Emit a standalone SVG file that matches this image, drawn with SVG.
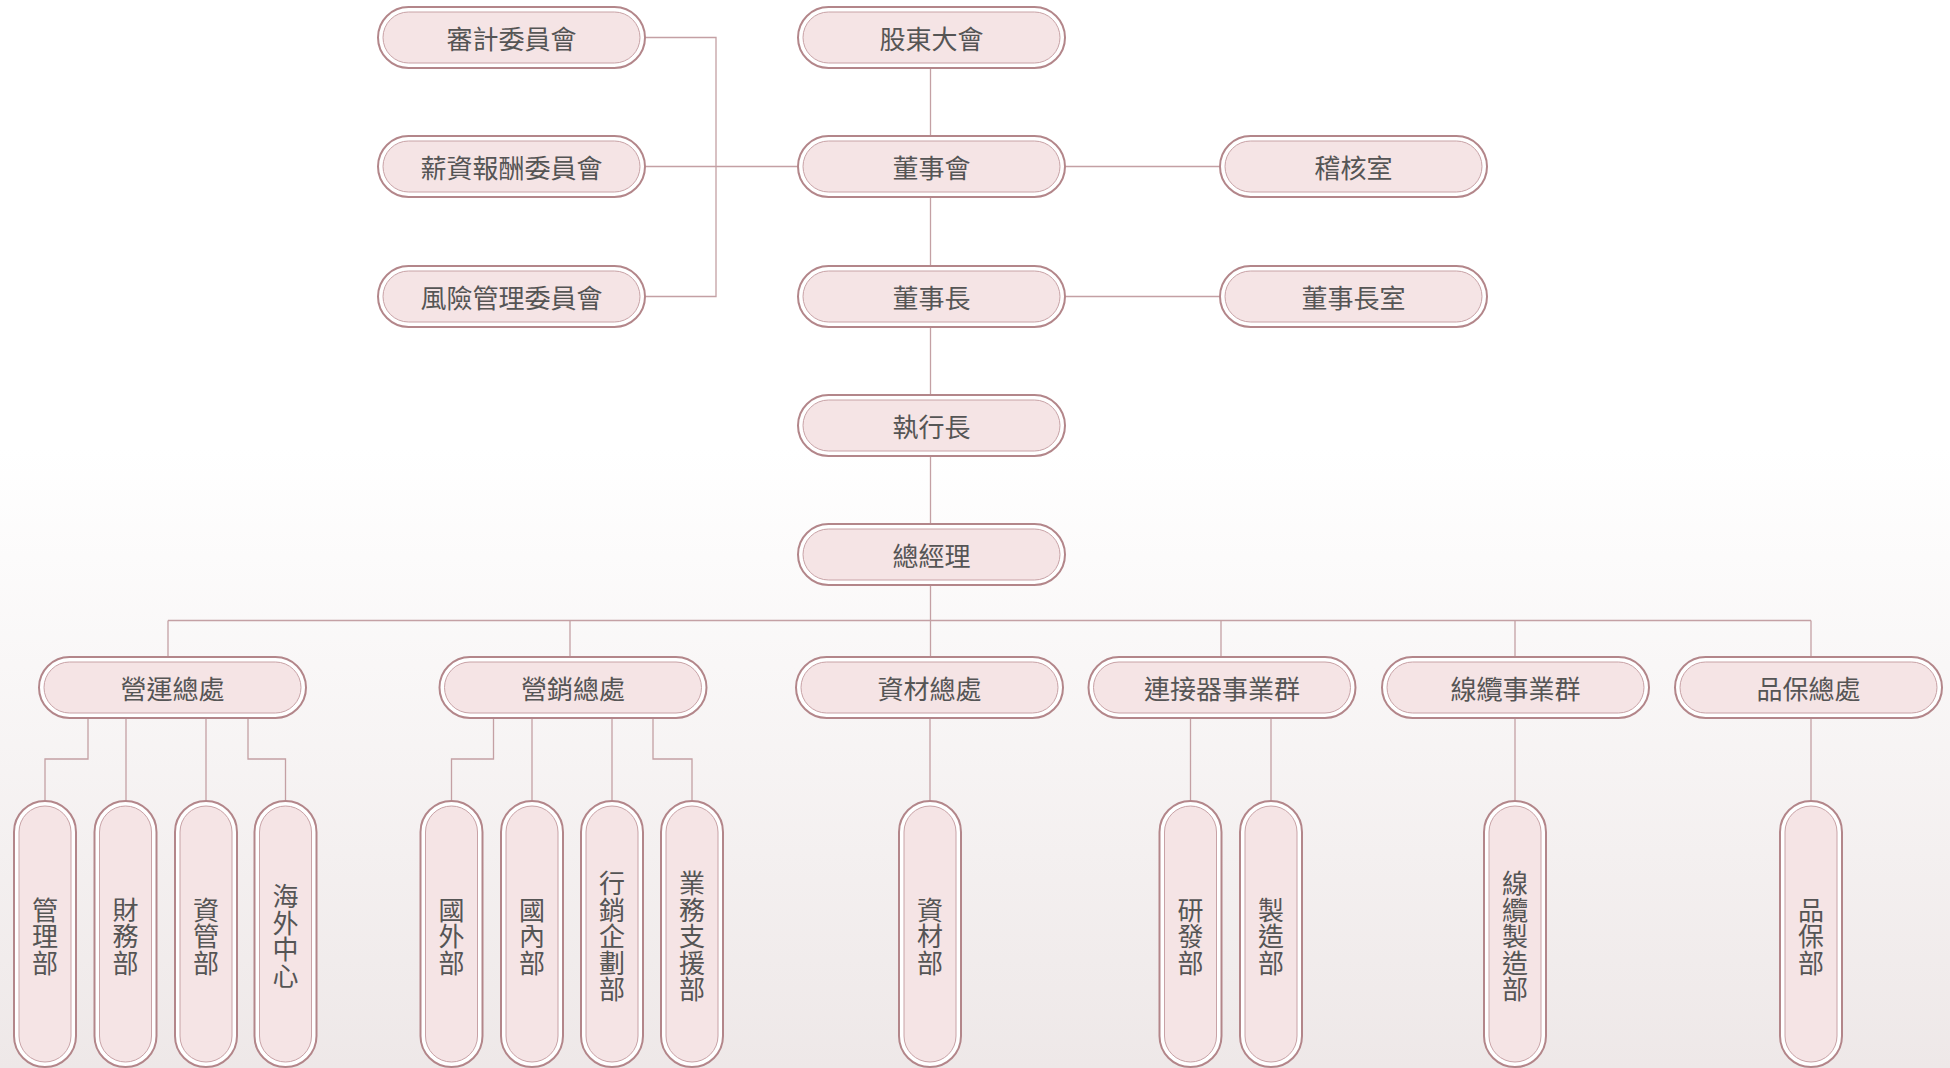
<svg xmlns="http://www.w3.org/2000/svg" width="1950" height="1068" viewBox="0 0 1950 1068">
<defs>
<linearGradient id="bg" x1="0" y1="0" x2="0" y2="1">
<stop offset="0" stop-color="#ffffff"/>
<stop offset="0.42" stop-color="#ffffff"/>
<stop offset="1" stop-color="#eee8e8"/>
</linearGradient>
<style>
.o{fill:#ffffff;stroke:#b3868a;stroke-width:2}
.i{fill:#f5e4e5;stroke:#c8a2a6;stroke-width:1}
.t{font-family:"Noto Sans CJK TC","Noto Sans CJK SC",sans-serif;font-size:26px;fill:#555555;text-anchor:middle;dominant-baseline:central}
.c{fill:none;stroke:#c4a0a4;stroke-width:1.3}
</style>
</defs>
<rect x="0" y="0" width="1950" height="1068" fill="url(#bg)"/>

<g id="connectors">
<path class="c" d="M645,37.5 H716 V296.5 H645"/>
<path class="c" d="M645,166.5 H798"/>
<path class="c" d="M930.5,68 V136"/>
<path class="c" d="M930.5,197 V266"/>
<path class="c" d="M930.5,327 V395"/>
<path class="c" d="M930.5,456 V524"/>
<path class="c" d="M930.5,585 V657"/>
<path class="c" d="M1065,166.5 H1220"/>
<path class="c" d="M1065,296.5 H1220"/>
<path class="c" d="M168,620.5 H1811"/>
<path class="c" d="M168,620.5 V657"/>
<path class="c" d="M570,620.5 V657"/>
<path class="c" d="M1221,620.5 V657"/>
<path class="c" d="M1515,620.5 V657"/>
<path class="c" d="M1811,620.5 V657"/>
<path class="c" d="M88,718 V759 H45 V801"/>
<path class="c" d="M126,718 V801"/>
<path class="c" d="M206,718 V801"/>
<path class="c" d="M248,718 V759 H285.5 V801"/>
<path class="c" d="M493.5,718 V759 H451.5 V801"/>
<path class="c" d="M532,718 V801"/>
<path class="c" d="M612,718 V801"/>
<path class="c" d="M653,718 V759 H692 V801"/>
<path class="c" d="M930,718 V801"/>
<path class="c" d="M1190.5,718 V801"/>
<path class="c" d="M1271,718 V801"/>
<path class="c" d="M1515,718 V801"/>
<path class="c" d="M1811,718 V801"/>
</g>

<g id="n-audit"><rect class="o" x="378" y="7" width="267" height="61" rx="30.5"/><rect class="i" x="383" y="12" width="257" height="51" rx="25.5"/><text class="t" x="511.5" y="37.5">審計委員會</text></g>
<g id="n-comp"><rect class="o" x="378" y="136" width="267" height="61" rx="30.5"/><rect class="i" x="383" y="141" width="257" height="51" rx="25.5"/><text class="t" x="511.5" y="166.5">薪資報酬委員會</text></g>
<g id="n-risk"><rect class="o" x="378" y="266" width="267" height="61" rx="30.5"/><rect class="i" x="383" y="271" width="257" height="51" rx="25.5"/><text class="t" x="511.5" y="296.5">風險管理委員會</text></g>
<g id="n-shareholders"><rect class="o" x="798" y="7" width="267" height="61" rx="30.5"/><rect class="i" x="803" y="12" width="257" height="51" rx="25.5"/><text class="t" x="931.5" y="37.5">股東大會</text></g>
<g id="n-board"><rect class="o" x="798" y="136" width="267" height="61" rx="30.5"/><rect class="i" x="803" y="141" width="257" height="51" rx="25.5"/><text class="t" x="931.5" y="166.5">董事會</text></g>
<g id="n-chairman"><rect class="o" x="798" y="266" width="267" height="61" rx="30.5"/><rect class="i" x="803" y="271" width="257" height="51" rx="25.5"/><text class="t" x="931.5" y="296.5">董事長</text></g>
<g id="n-ceo"><rect class="o" x="798" y="395" width="267" height="61" rx="30.5"/><rect class="i" x="803" y="400" width="257" height="51" rx="25.5"/><text class="t" x="931.5" y="425.5">執行長</text></g>
<g id="n-gm"><rect class="o" x="798" y="524" width="267" height="61" rx="30.5"/><rect class="i" x="803" y="529" width="257" height="51" rx="25.5"/><text class="t" x="931.5" y="554.5">總經理</text></g>
<g id="n-auditoffice"><rect class="o" x="1220" y="136" width="267" height="61" rx="30.5"/><rect class="i" x="1225" y="141" width="257" height="51" rx="25.5"/><text class="t" x="1353.5" y="166.5">稽核室</text></g>
<g id="n-chairoffice"><rect class="o" x="1220" y="266" width="267" height="61" rx="30.5"/><rect class="i" x="1225" y="271" width="257" height="51" rx="25.5"/><text class="t" x="1353.5" y="296.5">董事長室</text></g>

<g id="n-ops"><rect class="o" x="39" y="657" width="267" height="61" rx="30.5"/><rect class="i" x="44" y="662" width="257" height="51" rx="25.5"/><text class="t" x="172.5" y="687.5">營運總處</text></g>
<g id="n-sales"><rect class="o" x="439.5" y="657" width="267" height="61" rx="30.5"/><rect class="i" x="444.5" y="662" width="257" height="51" rx="25.5"/><text class="t" x="573" y="687.5">營銷總處</text></g>
<g id="n-material"><rect class="o" x="796" y="657" width="267" height="61" rx="30.5"/><rect class="i" x="801" y="662" width="257" height="51" rx="25.5"/><text class="t" x="929.5" y="687.5">資材總處</text></g>
<g id="n-connector"><rect class="o" x="1088.5" y="657" width="267" height="61" rx="30.5"/><rect class="i" x="1093.5" y="662" width="257" height="51" rx="25.5"/><text class="t" x="1222" y="687.5">連接器事業群</text></g>
<g id="n-cable"><rect class="o" x="1382" y="657" width="267" height="61" rx="30.5"/><rect class="i" x="1387" y="662" width="257" height="51" rx="25.5"/><text class="t" x="1515.5" y="687.5">線纜事業群</text></g>
<g id="n-qa"><rect class="o" x="1675" y="657" width="267" height="61" rx="30.5"/><rect class="i" x="1680" y="662" width="257" height="51" rx="25.5"/><text class="t" x="1808.5" y="687.5">品保總處</text></g>

<g id="p-admin"><rect class="o" x="14" y="801" width="62" height="266" rx="31"/><rect class="i" x="19" y="806" width="52" height="256" rx="26"/><text class="t"><tspan x="45" y="907.5">管</tspan><tspan x="45" y="934">理</tspan><tspan x="45" y="960.5">部</tspan></text></g>
<g id="p-finance"><rect class="o" x="94.5" y="801" width="62" height="266" rx="31"/><rect class="i" x="99.5" y="806" width="52" height="256" rx="26"/><text class="t"><tspan x="125.5" y="907.5">財</tspan><tspan x="125.5" y="934">務</tspan><tspan x="125.5" y="960.5">部</tspan></text></g>
<g id="p-it"><rect class="o" x="175" y="801" width="62" height="266" rx="31"/><rect class="i" x="180" y="806" width="52" height="256" rx="26"/><text class="t"><tspan x="206" y="907.5">資</tspan><tspan x="206" y="934">管</tspan><tspan x="206" y="960.5">部</tspan></text></g>
<g id="p-overseas"><rect class="o" x="254.5" y="801" width="62" height="266" rx="31"/><rect class="i" x="259.5" y="806" width="52" height="256" rx="26"/><text class="t"><tspan x="285.5" y="894.25">海</tspan><tspan x="285.5" y="920.75">外</tspan><tspan x="285.5" y="947.25">中</tspan><tspan x="285.5" y="973.75">心</tspan></text></g>

<g id="p-foreign"><rect class="o" x="420.5" y="801" width="62" height="266" rx="31"/><rect class="i" x="425.5" y="806" width="52" height="256" rx="26"/><text class="t"><tspan x="451.5" y="907.5">國</tspan><tspan x="451.5" y="934">外</tspan><tspan x="451.5" y="960.5">部</tspan></text></g>
<g id="p-domestic"><rect class="o" x="501" y="801" width="62" height="266" rx="31"/><rect class="i" x="506" y="806" width="52" height="256" rx="26"/><text class="t"><tspan x="532" y="907.5">國</tspan><tspan x="532" y="934">內</tspan><tspan x="532" y="960.5">部</tspan></text></g>
<g id="p-marketing"><rect class="o" x="581" y="801" width="62" height="266" rx="31"/><rect class="i" x="586" y="806" width="52" height="256" rx="26"/><text class="t"><tspan x="612" y="881">行</tspan><tspan x="612" y="907.5">銷</tspan><tspan x="612" y="934">企</tspan><tspan x="612" y="960.5">劃</tspan><tspan x="612" y="987">部</tspan></text></g>
<g id="p-support"><rect class="o" x="661" y="801" width="62" height="266" rx="31"/><rect class="i" x="666" y="806" width="52" height="256" rx="26"/><text class="t"><tspan x="692" y="881">業</tspan><tspan x="692" y="907.5">務</tspan><tspan x="692" y="934">支</tspan><tspan x="692" y="960.5">援</tspan><tspan x="692" y="987">部</tspan></text></g>

<g id="p-materialdept"><rect class="o" x="899" y="801" width="62" height="266" rx="31"/><rect class="i" x="904" y="806" width="52" height="256" rx="26"/><text class="t"><tspan x="930" y="907.5">資</tspan><tspan x="930" y="934">材</tspan><tspan x="930" y="960.5">部</tspan></text></g>

<g id="p-rd"><rect class="o" x="1159.5" y="801" width="62" height="266" rx="31"/><rect class="i" x="1164.5" y="806" width="52" height="256" rx="26"/><text class="t"><tspan x="1190.5" y="907.5">研</tspan><tspan x="1190.5" y="934">發</tspan><tspan x="1190.5" y="960.5">部</tspan></text></g>
<g id="p-mfg"><rect class="o" x="1240" y="801" width="62" height="266" rx="31"/><rect class="i" x="1245" y="806" width="52" height="256" rx="26"/><text class="t"><tspan x="1271" y="907.5">製</tspan><tspan x="1271" y="934">造</tspan><tspan x="1271" y="960.5">部</tspan></text></g>

<g id="p-cablemfg"><rect class="o" x="1484" y="801" width="62" height="266" rx="31"/><rect class="i" x="1489" y="806" width="52" height="256" rx="26"/><text class="t"><tspan x="1515" y="881">線</tspan><tspan x="1515" y="907.5">纜</tspan><tspan x="1515" y="934">製</tspan><tspan x="1515" y="960.5">造</tspan><tspan x="1515" y="987">部</tspan></text></g>

<g id="p-qadept"><rect class="o" x="1780" y="801" width="62" height="266" rx="31"/><rect class="i" x="1785" y="806" width="52" height="256" rx="26"/><text class="t"><tspan x="1811" y="907.5">品</tspan><tspan x="1811" y="934">保</tspan><tspan x="1811" y="960.5">部</tspan></text></g>
</svg>
